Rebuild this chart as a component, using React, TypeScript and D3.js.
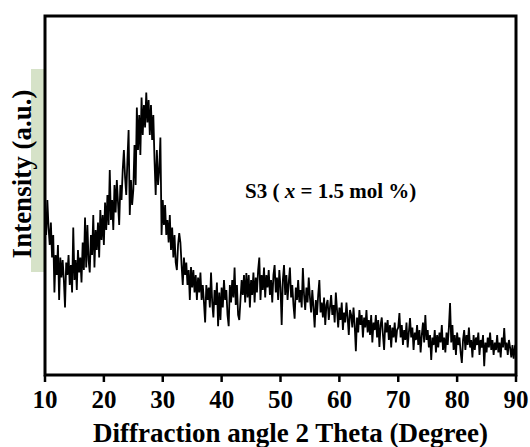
import React from "react";
import * as d3 from "d3";

// XRD pattern, 2θ from 10° to 90° in 0.2° steps
const startAngle = 10;
const stepAngle = 0.2;
const intensity: number[] = [
  640, 560, 700, 590, 520,
  610, 470, 560, 330, 480,
  400, 520, 300, 470, 390,
  460, 380, 270, 450, 400,
  480, 360, 440, 330, 590,
  380, 460, 340, 500, 410,
  470, 370, 530, 420, 630,
  430, 600, 460, 410, 560,
  480, 640, 430, 580, 500,
  610, 470, 660, 540, 640,
  520, 690, 580, 720, 600,
  820, 620, 700, 580, 760,
  650, 780, 690, 600, 760,
  700, 820, 900, 790, 720,
  860, 980, 640, 780, 680,
  740, 920, 760, 1070, 900,
  1040, 880, 1110, 960, 1080,
  990, 1130, 1010, 1100, 960,
  1080, 940, 1040, 860, 720,
  900, 760, 820, 950, 560,
  700, 600, 680, 560, 620,
  530, 640, 500, 590, 470,
  560, 450, 420, 520, 568,
  530, 440, 360, 470, 400,
  450, 360, 420, 300, 432,
  350, 420, 330, 400, 300,
  390, 330, 410, 300, 360,
  290, 210, 360, 300, 350,
  270, 410, 290, 230, 340,
  280, 370, 195, 330, 220,
  350, 270, 380, 300, 340,
  240, 195, 360, 290, 380,
  310, 430, 280, 360, 240,
  220, 300, 380, 320, 400,
  290, 408, 310, 400, 270,
  380, 320, 410, 290, 390,
  330, 420, 470, 300, 400,
  340, 430, 310, 400, 350,
  420, 320, 380, 290, 400,
  440, 330, 390, 300, 420,
  350, 200, 380, 440, 320,
  400, 300, 370, 430, 310,
  360, 280, 225, 350, 300,
  380, 290, 340, 270, 428,
  320, 260, 350, 290, 390,
  310, 250, 340, 270, 190,
  300, 240, 320, 380, 250,
  290, 230, 310, 200, 280,
  300, 220, 270, 320, 240,
  280, 210, 330, 260, 190,
  270, 220, 290, 180, 250,
  210, 290, 230, 160, 260,
  240, 190, 270, 200, 95,
  230, 170, 260, 200, 240,
  150, 230, 190, 260, 170,
  220, 160, 240, 130, 210,
  180, 240, 150, 220, 112,
  200, 230, 160, 100, 210,
  170, 220, 140, 200, 110,
  190, 150, 210, 130, 180,
  190, 248, 150, 200, 120,
  180, 140, 210, 110, 170,
  228, 150, 190, 100, 170,
  140, 200, 120, 180, 90,
  160, 210, 130, 240, 140,
  180, 110, 160, 60, 150,
  120, 180, 90, 160, 110,
  170, 130, 200, 100, 150,
  90, 170, 120, 190, 288,
  130, 200, 100, 160, 80,
  170, 120, 150, 90, 48,
  140, 180, 100, 160, 120,
  190, 110, 140, 70, 160,
  100, 150, 120, 170, 80,
  140, 110, 160, 35, 130,
  90, 150, 110, 170, 100,
  140, 80, 130, 100, 160,
  90, 130, 70, 150, 110,
  188, 100, 130, 80, 140,
  110, 70, 120, 65, 110,
  100,
];
const xTicks = [10, 20, 30, 40, 50, 60, 70, 80, 90];
const xTitle = "Diffraction angle 2 Theta (Degree)";
const yTitle = "Intensity (a.u.)";

const W = 530;
const H = 447;
const left = 45;
const right = 516;
const top = 16;
const bottom = 375;
const font = "'Liberation Serif', 'Times New Roman', serif";

export default function App() {
  const points = intensity.map((v, i) => ({ a: startAngle + i * stepAngle, v }));
  const x = d3.scaleLinear().domain([10, 90]).range([left, right]);
  const y = d3.scaleLinear().domain([0, 1436]).range([bottom, top]);
  const line = d3
    .line<{ a: number; v: number }>()
    .x((d) => x(d.a))
    .y((d) => y(d.v));

  return (
    <svg
      width={W}
      height={H}
      style={{ position: "absolute", left: 0, top: 0, background: "#fff" }}
      fontFamily={font}
    >
      <rect x={31} y={69} width={14} height={203} fill="#d6e2c8" />
      <path d={line(points) ?? ""} fill="none" stroke="#000" strokeWidth={1.8} strokeLinejoin="miter" />
      <rect x={left} y={top} width={right - left} height={bottom - top} fill="none" stroke="#000" strokeWidth={3} />
      {xTicks.map((t) => (
        <g key={t}>
          <line x1={x(t)} x2={x(t)} y1={bottom} y2={bottom + 7} stroke="#000" strokeWidth={2.5} />
          <text x={x(t)} y={408} textAnchor="middle" fontSize={25} fontWeight="bold">
            {t}
          </text>
        </g>
      ))}
      <text x={(left + right) / 2 + 10} y={442} textAnchor="middle" fontSize={27} fontWeight="bold">
        {xTitle}
      </text>
      <text
        transform={`translate(31,174) rotate(-90)`}
        textAnchor="middle"
        fontSize={27}
        fontWeight="bold"
      >
        {yTitle}
      </text>
      <text x={245} y={198} fontSize={21} fontWeight="bold">
        S3 ( <tspan fontStyle="italic">x</tspan> = 1.5 mol %)
      </text>
    </svg>
  );
}
